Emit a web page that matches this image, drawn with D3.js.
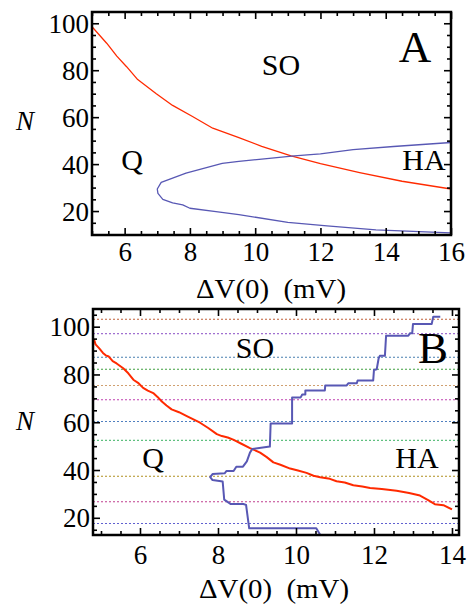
<!DOCTYPE html>
<html>
<head>
<meta charset="utf-8">
<script src="https://cdn.jsdelivr.net/npm/d3@7"></script>
<style>
body { margin: 0; background: #fff; }
</style>
</head>
<body>
<script>
// ---- data ----
// panel A
const xTicksA = [6, 8, 10, 12, 14, 16];
const yTicks = [20, 40, 60, 80, 100];
const redA = [[5, 98.5], [5.45, 91.5], [5.76, 86], [6.06, 81.5], [6.4, 76], [6.97, 70], [7.47, 65],
  [8.08, 60.3], [8.7, 55.3], [9.5, 51.3], [10.2, 47.6], [11.1, 43.5], [12, 40.2], [13.2, 36.4],
  [14.5, 32.7], [16, 29.4]];
const blueA = [[16, 10.7], [15.6, 10.9], [13.7, 12], [12.2, 13.7], [11, 15.2], [9.5, 18.5], [8.8, 19.8],
  [8, 21.2], [7.78, 22.6], [7.47, 23.5], [7.17, 25], [7.02, 27.5], [7, 29.4], [7.12, 32.2], [7.88, 36.2],
  [8.99, 40.3], [9.5, 41.2], [10.2, 42.1], [11.2, 43.5], [12, 44.4], [13, 46.2], [14.24, 47.5], [16, 49.2]];

// panel B
const xTicksB = [6, 8, 10, 12, 14];
const redB = [[4.82, 94.8], [4.86, 92.6], [4.95, 91], [5.05, 89], [5.12, 88], [5.2, 87.5], [5.3, 85.6],
  [5.4, 84.6], [5.57, 82.6], [5.7, 80.5], [5.83, 77.8], [5.95, 76.5], [6.08, 74.4], [6.2, 73.2],
  [6.34, 72.2], [6.45, 70.6], [6.56, 68.7], [6.68, 67], [6.81, 65.4], [7.0, 64.2], [7.2, 62.6],
  [7.37, 61.2], [7.54, 59.8], [7.75, 57.6], [7.97, 55], [8.1, 54.2], [8.25, 53.6], [8.39, 52.7],
  [8.6, 51], [8.82, 49.2], [9.08, 47.3], [9.25, 45.4], [9.42, 43.2], [9.6, 42.2], [9.85, 40.6],
  [10.05, 39.8], [10.27, 38.8], [10.45, 37.6], [10.62, 37], [10.87, 36.3], [11.04, 35.3],
  [11.25, 34.8], [11.47, 33.6], [11.7, 33.1], [11.9, 32.5], [12.2, 32.1], [12.58, 31.3],
  [12.9, 30.4], [13.18, 29.3], [13.4, 27.3], [13.56, 25.7], [13.78, 25.3], [14.0, 23.5]];
const blueB = [[10.62, 12.9], [10.52, 15.6], [8.8, 15.6], [8.72, 25.4], [8.65, 25.8], [8.32, 25.8],
  [8.16, 27.6], [8.12, 35.2], [7.86, 35.8], [7.8, 37.0], [7.86, 38.3], [8.17, 38.6], [8.22, 39.6],
  [8.4, 39.6], [8.47, 41.4], [8.64, 41.4], [8.74, 43.6], [8.82, 47.3], [8.88, 48.8], [9.33, 49.8],
  [9.35, 59.5], [9.9, 59.5], [9.9, 70.4], [10.12, 70.4], [10.16, 71.6], [10.24, 71.6], [10.24, 73.3],
  [10.74, 73.3], [10.75, 75.4], [11.3, 75.4], [11.34, 76.3], [11.56, 76.3], [11.58, 77.5],
  [11.98, 77.5], [12.0, 81.9], [12.07, 82.2], [12.12, 86.8], [12.15, 87.8], [12.28, 87.8],
  [12.31, 96.2], [12.88, 96.2], [12.92, 97.2], [12.98, 97.2], [13.0, 101.1], [13.48, 101.1],
  [13.52, 104.2], [13.7, 104.2]];
const levelsB = [103.1, 97.1, 87.2, 82.2, 75.4, 69.4, 60.3, 52.4, 37.4, 26.7, 17.6];
const levelColors = ["#c0603a", "#a070d0", "#4a80b0", "#40a040", "#d0a070", "#c040b0",
  "#5080c0", "#60c080", "#b09020", "#c04090", "#6060d0"];

const red = "#ff2a00";
const blue = "#5858b4";
const serif = "'Liberation Serif'";

const svg = d3.select("body").append("svg")
  .attr("width", 469).attr("height", 605);

function panel(opt) {
  const x = d3.scaleLinear().domain(opt.xDomain).range([opt.left, opt.right]);
  const y = d3.scaleLinear().domain(opt.yDomain).range([opt.bottom, opt.top]);
  const g = svg.append("g");
  const xMinor = d3.range(Math.ceil(opt.xDomain[0] * 2) / 2, opt.xDomain[1], 0.5).filter(v => v % 2 !== 0);
  const yMinor = d3.range(Math.ceil(opt.yDomain[0] / 5) * 5, opt.yDomain[1], 5).filter(v => v % 20 !== 0);

  // level lines (panel B)
  (opt.levels || []).forEach((n, i) => {
    g.append("line")
      .attr("x1", opt.left).attr("x2", opt.right)
      .attr("y1", y(n)).attr("y2", y(n))
      .attr("stroke", levelColors[i]).attr("stroke-width", 1.1)
      .attr("stroke-dasharray", "2,2");
  });

  const clipId = "clip" + opt.name;
  svg.append("clipPath").attr("id", clipId).append("rect")
    .attr("x", opt.left).attr("y", opt.top)
    .attr("width", opt.right - opt.left).attr("height", opt.bottom - opt.top);

  const line = d3.line().x(d => x(d[0])).y(d => y(d[1]));
  opt.curves.forEach(c => {
    g.append("path").datum(c.data)
      .attr("clip-path", "url(#" + clipId + ")")
      .attr("d", line)
      .attr("fill", "none")
      .attr("stroke", c.color)
      .attr("stroke-width", c.width)
      .attr("stroke-linejoin", "round");
  });

  // ticks on all four sides, pointing inward
  function ticks(axisFn, scale, values, size, pos, withLabels) {
    const a = axisFn(scale).tickValues(values).tickSizeInner(-size).tickSizeOuter(0);
    if (!withLabels) a.tickFormat("");
    const ag = g.append("g").attr("transform", pos).call(a);
    ag.select(".domain").remove();
    ag.selectAll("line").attr("stroke", "#000").attr("stroke-width", 1.6);
    return ag;
  }
  const bx = ticks(d3.axisBottom, x, opt.xTicks, 7, "translate(0," + opt.bottom + ")", true);
  bx.selectAll("text").style("font-family", serif).style("font-size", "27px").attr("fill", "#000")
    .attr("y", opt.xLabelY - opt.bottom).attr("dy", null);
  ticks(d3.axisBottom, x, xMinor, 4, "translate(0," + opt.bottom + ")", false);
  ticks(d3.axisTop, x, opt.xTicks, 7, "translate(0," + opt.top + ")", false);
  ticks(d3.axisTop, x, xMinor, 4, "translate(0," + opt.top + ")", false);

  const ly = ticks(d3.axisLeft, y, yTicks, 7, "translate(" + opt.left + ",0)", true);
  ly.selectAll("text").style("font-family", serif).style("font-size", "27px").attr("fill", "#000")
    .attr("x", -3).attr("dy", "0.34em");
  ticks(d3.axisLeft, y, yMinor, 4, "translate(" + opt.left + ",0)", false);
  ticks(d3.axisRight, y, yTicks, 7, "translate(" + opt.right + ",0)", false);
  ticks(d3.axisRight, y, yMinor, 4, "translate(" + opt.right + ",0)", false);

  g.append("rect")
    .attr("x", opt.left).attr("y", opt.top)
    .attr("width", opt.right - opt.left).attr("height", opt.bottom - opt.top)
    .attr("fill", "none").attr("stroke", "#000").attr("stroke-width", 2.5);

  // labels
  opt.texts.forEach(t => {
    const tx = g.append("text")
      .attr("x", t.x).attr("y", t.y)
      .attr("text-anchor", "middle")
      .style("font-family", serif)
      .style("font-size", t.size + "px")
      .style("font-style", t.italic ? "italic" : "normal")
      .style("white-space", "pre")
      .attr("fill", "#000")
      .text(t.s);
    if (t.len) tx.attr("textLength", t.len).attr("lengthAdjust", "spacingAndGlyphs");
  });
}

panel({
  name: "A", left: 92, right: 451, top: 12, bottom: 235,
  xDomain: [5, 16], yDomain: [9.8, 104.8], xTicks: xTicksA, xLabelY: 261,
  curves: [{ data: redA, color: red, width: 1.3 }, { data: blueA, color: blue, width: 1.3 }],
  texts: [
    { s: "A", x: 415, y: 62, size: 45 },
    { s: "SO", x: 281, y: 75, size: 30 },
    { s: "Q", x: 132, y: 170, size: 30 },
    { s: "HA", x: 424, y: 170, size: 30 },
    { s: "N", x: 25, y: 130, size: 27, italic: true },
    { s: "\u0394V(0)  (mV)", x: 271, y: 298, size: 27, len: 150 }
  ]
});

panel({
  name: "B", left: 93, right: 459, top: 309, bottom: 535,
  xDomain: [4.795, 14.18], yDomain: [12.8, 107.4], xTicks: xTicksB, xLabelY: 564,
  levels: levelsB,
  curves: [{ data: redB, color: red, width: 2 }, { data: blueB, color: blue, width: 2 }],
  texts: [
    { s: "B", x: 433, y: 363, size: 45 },
    { s: "SO", x: 255, y: 358, size: 30 },
    { s: "Q", x: 153, y: 468, size: 30 },
    { s: "HA", x: 417, y: 468, size: 30 },
    { s: "N", x: 25, y: 430, size: 27, italic: true },
    { s: "\u0394V(0)  (mV)", x: 274, y: 598, size: 27, len: 150 }
  ]
});
</script>
</body>
</html>
